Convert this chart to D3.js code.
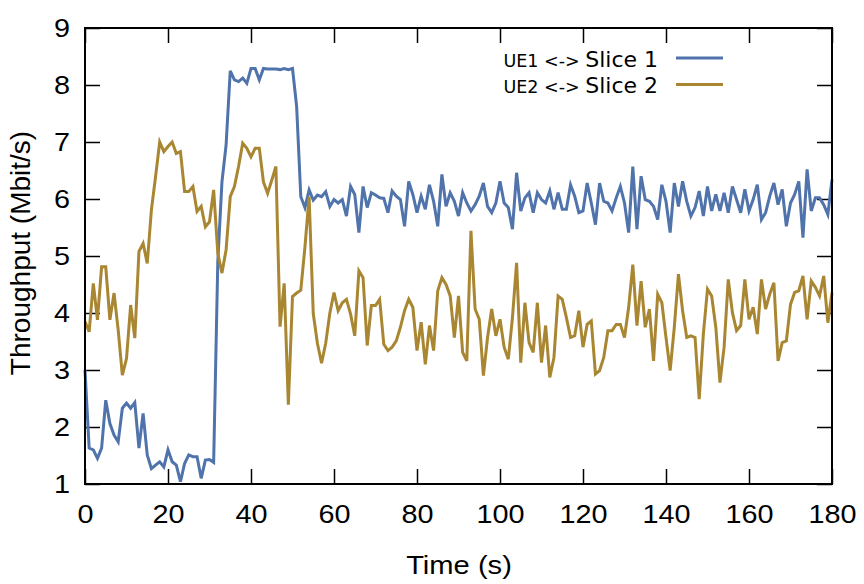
<!DOCTYPE html>
<html>
<head>
<meta charset="utf-8">
<script src="https://d3js.org/d3.v7.min.js"></script>
<style>
  body { margin: 0; background: #fff; }
  .tick text { font-family: "Liberation Sans", Arial, sans-serif; font-size: 25.5px; fill: #000; }
</style>
</head>
<body>
<script>
// throughput per second, t = 0 .. 180 s
const slice1 = [
  3.00, 1.63, 1.60, 1.45, 1.63, 2.47, 2.06, 1.86, 1.74, 2.33,
  2.42, 2.33, 2.43, 1.63, 2.24, 1.51, 1.27, 1.33, 1.39, 1.30,
  1.60, 1.39, 1.33, 1.04, 1.36, 1.51, 1.48, 1.48, 1.10, 1.42,
  1.43, 1.38, 4.90, 6.30, 6.95, 8.25, 8.09, 8.06, 8.12, 8.03,
  8.29, 8.29, 8.09, 8.29, 8.28, 8.28, 8.28, 8.27, 8.29, 8.27,
  8.29, 7.62, 6.04, 5.85, 6.16, 5.98, 6.07, 6.04, 6.13, 5.87,
  5.99, 5.93, 5.99, 5.70, 6.22, 6.08, 5.41, 6.22, 5.85, 6.11,
  6.07, 6.02, 6.01, 5.76, 6.14, 6.05, 5.99, 5.52, 6.31, 6.08,
  5.76, 6.05, 5.82, 6.25, 5.96, 5.52, 6.43, 5.87, 6.11, 5.96,
  5.70, 6.11, 5.93, 5.79, 5.90, 6.05, 6.28, 5.87, 5.76, 5.93,
  6.31, 5.93, 5.85, 5.47, 6.46, 5.79, 6.02, 6.11, 5.76, 6.11,
  5.99, 5.93, 6.14, 5.82, 6.11, 5.82, 5.82, 6.25, 6.05, 5.76,
  5.79, 6.28, 5.93, 5.55, 6.28, 5.96, 5.93, 5.79, 6.02, 6.22,
  5.93, 5.41, 6.57, 5.47, 6.40, 5.99, 5.96, 5.87, 5.64, 6.25,
  5.96, 5.41, 6.28, 5.87, 6.31, 5.96, 5.70, 5.85, 6.14, 5.70,
  6.22, 5.79, 6.08, 5.79, 6.11, 5.76, 6.22, 5.99, 5.76, 6.17,
  5.79, 5.99, 6.25, 5.64, 5.76, 6.05, 6.28, 5.90, 6.17, 5.52,
  5.93, 6.08, 6.31, 5.32, 6.52, 5.79, 6.02, 6.02, 5.90, 5.73,
  6.34
];
const slice2 = [
  3.85, 3.67, 4.52, 3.88, 4.81, 4.81, 3.88, 4.35, 3.70, 2.91,
  3.20, 4.14, 3.56, 5.08, 5.22, 4.87, 5.81, 6.39, 7.00, 6.83,
  6.92, 7.00, 6.80, 6.83, 6.13, 6.13, 6.22, 5.78, 5.87, 5.51,
  5.60, 6.16, 5.05, 4.70, 5.11, 6.04, 6.22, 6.57, 6.98, 6.89,
  6.74, 6.89, 6.89, 6.30, 6.10, 6.33, 6.57, 3.76, 4.52, 2.39,
  4.29, 4.35, 4.40, 5.16, 6.04, 3.99, 3.47, 3.12, 3.47, 4.00,
  4.36, 4.04, 4.18, 4.24, 3.98, 3.60, 4.74, 4.62, 3.43, 4.13,
  4.13, 4.24, 3.45, 3.34, 3.40, 3.51, 3.75, 4.04, 4.24, 4.10,
  3.34, 3.84, 3.10, 3.78, 3.34, 4.39, 4.62, 4.50, 4.30, 3.57,
  4.30, 3.31, 3.16, 5.44, 4.07, 3.89, 2.90, 3.57, 4.07, 3.60,
  3.89, 3.40, 3.19, 3.92, 4.88, 3.13, 4.18, 3.48, 3.31, 4.18,
  3.13, 3.78, 2.87, 3.22, 4.30, 4.24, 3.92, 3.57, 3.60, 4.04,
  3.40, 3.80, 3.86, 2.93, 2.99, 3.22, 3.69, 3.69, 3.80, 3.80,
  3.57, 4.10, 4.85, 3.78, 4.56, 3.75, 4.07, 3.16, 4.33, 4.18,
  3.57, 2.99, 3.75, 4.68, 4.04, 3.57, 3.60, 3.57, 2.49, 3.63,
  4.42, 4.30, 3.75, 2.78, 3.40, 4.59, 4.01, 3.69, 3.78, 4.59,
  3.89, 4.10, 3.63, 4.59, 4.07, 4.33, 4.53, 3.16, 3.48, 3.51,
  4.15, 4.36, 4.39, 4.65, 3.89, 4.56, 4.45, 4.30, 4.65, 3.83,
  4.36
];
const xTicks = [0, 20, 40, 60, 80, 100, 120, 140, 160, 180];
const yTicks = [1, 2, 3, 4, 5, 6, 7, 8, 9];
const seriesNames = ["UE1 <-> ", "UE2 <-> "];
const sliceNames = ["Slice 1", "Slice 2"];
const colors = ["#4f73aa", "#a98632"];

const width = 864, height = 584;
const m = { left: 85, right: 832, top: 28, bottom: 484 };

const svg = d3.select("body").append("svg")
    .attr("width", width).attr("height", height);

const x = d3.scaleLinear().domain([0, 180]).range([m.left, m.right]);
const y = d3.scaleLinear().domain([1, 9]).range([m.bottom, m.top]);

// the reference text is a bit wider than the font, stretch it sideways
function widen(sel, f) {
    sel.each(function () {
        const w = this.getComputedTextLength();
        d3.select(this).attr("textLength", w * f).attr("lengthAdjust", "spacingAndGlyphs");
    });
}

// axes, ticks pointing inward
svg.append("g").attr("transform", "translate(0," + m.bottom + ")")
    .call(d3.axisBottom(x).tickValues(xTicks).tickSizeInner(-15).tickSizeOuter(0).tickPadding(21));
svg.append("g").attr("transform", "translate(0," + m.top + ")")
    .call(d3.axisTop(x).tickValues(xTicks).tickSizeInner(-15).tickSizeOuter(0).tickFormat(""));
svg.append("g").attr("transform", "translate(" + m.left + ",0)")
    .call(d3.axisLeft(y).tickValues(yTicks).tickSizeInner(-15).tickSizeOuter(0).tickPadding(15));
svg.append("g").attr("transform", "translate(" + m.right + ",0)")
    .call(d3.axisRight(y).tickValues(yTicks).tickSizeInner(-15).tickSizeOuter(0).tickFormat(""));

svg.selectAll(".domain").remove();
svg.selectAll(".tick line").attr("stroke", "#000").attr("stroke-width", 1.5);
widen(svg.selectAll(".tick text"), 1.13);

// lines
const line = d3.line().x((d, i) => x(i)).y(d => y(d));
[slice1, slice2].forEach(function (s, k) {
    svg.append("path").datum(s)
        .attr("fill", "none")
        .attr("stroke", colors[k])
        .attr("stroke-width", 3)
        .attr("stroke-linejoin", "miter")
        .attr("d", line);
});

// frame
svg.append("rect")
    .attr("x", m.left).attr("y", m.top)
    .attr("width", m.right - m.left).attr("height", m.bottom - m.top)
    .attr("fill", "none").attr("stroke", "#000").attr("stroke-width", 2);

// axis titles
svg.append("text")
    .attr("x", 459).attr("y", 574)
    .attr("text-anchor", "middle")
    .style("font-family", "Liberation Sans, Arial, sans-serif").style("font-size", "26px")
    .text("Time (s)")
    .call(widen, 1.12);
svg.append("text")
    .attr("transform", "translate(30,253) rotate(-90)")
    .attr("text-anchor", "middle")
    .style("font-family", "Liberation Sans, Arial, sans-serif").style("font-size", "28px")
    .text("Throughput (Mbit/s)");

// legend
seriesNames.forEach(function (name, k) {
    const ly = 58 + k * 26.5;
    const t = svg.append("text")
        .attr("x", 658).attr("y", ly + 8.5)
        .attr("text-anchor", "end")
        .style("font-family", "DejaVu Sans, sans-serif");
    t.append("tspan").style("font-size", "17.5px").text(name);
    t.append("tspan").style("font-size", "22px").text(sliceNames[k]);
    svg.append("line")
        .attr("x1", 676).attr("x2", 723)
        .attr("y1", ly).attr("y2", ly)
        .attr("stroke", colors[k]).attr("stroke-width", 3);
});
</script>
</body>
</html>
